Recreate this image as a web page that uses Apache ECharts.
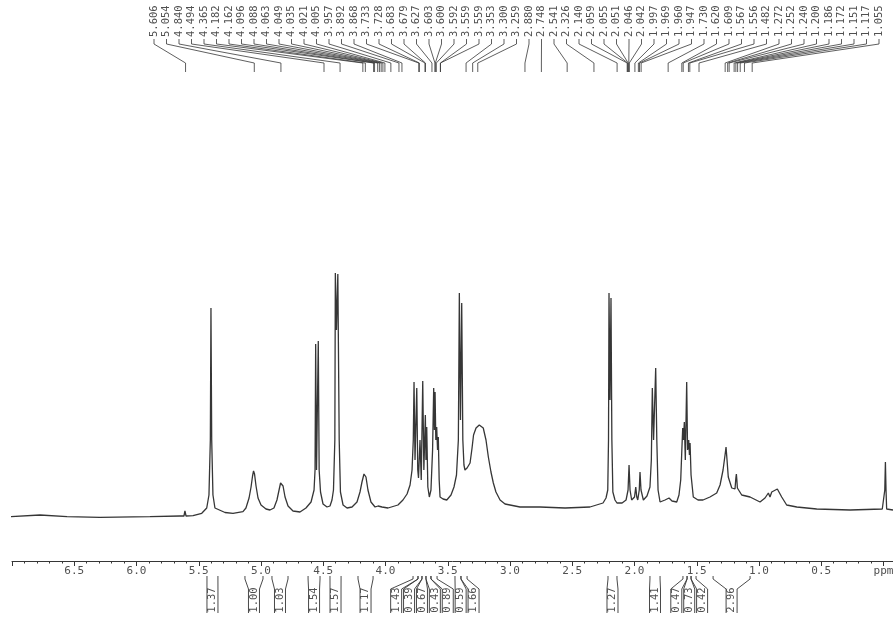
<!DOCTYPE html>
<html>
<head>
<meta charset="utf-8">
<script src="https://cdn.jsdelivr.net/npm/echarts@6/dist/echarts.min.js"></script>
<style>
  html, body { margin: 0; padding: 0; background: #ffffff; }
  #chart { width: 893px; height: 620px; }
</style>
</head>
<body>
<div id="chart"></div>
<script>
// 1H NMR trace: chemical shift (ppm) and signal intensity (arbitrary units, baseline near 0)
const shiftPpm = [
  7.008, 6.775, 6.558, 6.293, 5.892, 5.651, 5.619, 5.611, 5.602, 5.546,
  5.476, 5.436, 5.418, 5.407, 5.402, 5.396, 5.386, 5.370, 5.289, 5.225,
  5.145, 5.121, 5.096, 5.080, 5.068, 5.060, 5.052, 5.040, 5.024, 5.000,
  4.960, 4.928, 4.896, 4.872, 4.855, 4.843, 4.835, 4.823, 4.807, 4.783,
  4.743, 4.687, 4.639, 4.598, 4.574, 4.566, 4.561, 4.554, 4.548, 4.540,
  4.533, 4.522, 4.502, 4.470, 4.446, 4.430, 4.418, 4.407, 4.403, 4.394,
  4.383, 4.372, 4.362, 4.341, 4.309, 4.269, 4.229, 4.205, 4.189, 4.173,
  4.157, 4.141, 4.117, 4.084, 4.060, 4.044, 4.028, 3.980, 3.964, 3.900,
  3.860, 3.827, 3.803, 3.787, 3.777, 3.771, 3.763, 3.749, 3.741, 3.735,
  3.723, 3.713, 3.701, 3.692, 3.680, 3.675, 3.669, 3.660, 3.648, 3.635,
  3.622, 3.613, 3.607, 3.602, 3.596, 3.589, 3.582, 3.576, 3.569, 3.562,
  3.538, 3.508, 3.474, 3.450, 3.430, 3.415, 3.407, 3.398, 3.388, 3.379,
  3.370, 3.362, 3.345, 3.321, 3.305, 3.293, 3.273, 3.247, 3.215, 3.193,
  3.174, 3.153, 3.134, 3.113, 3.080, 3.040, 3.000, 2.920, 2.759, 2.558,
  2.358, 2.253, 2.229, 2.215, 2.209, 2.205, 2.197, 2.189, 2.182, 2.174,
  2.157, 2.141, 2.100, 2.068, 2.052, 2.044, 2.036, 2.023, 2.000, 1.990,
  1.982, 1.974, 1.962, 1.956, 1.948, 1.929, 1.900, 1.876, 1.865, 1.857,
  1.847, 1.830, 1.821, 1.811, 1.795, 1.755, 1.723, 1.699, 1.661, 1.643,
  1.629, 1.620, 1.613, 1.607, 1.600, 1.592, 1.581, 1.574, 1.565, 1.559,
  1.554, 1.546, 1.528, 1.490, 1.450, 1.394, 1.340, 1.313, 1.289, 1.273,
  1.265, 1.257, 1.247, 1.219, 1.193, 1.186, 1.182, 1.178, 1.174, 1.139,
  1.072, 0.992, 0.952, 0.925, 0.912, 0.898, 0.885, 0.853, 0.818, 0.778,
  0.697, 0.537, 0.269, 0.010, -0.005, -0.010, -0.015, -0.020, -0.025, -0.076
];
const intensity = [
  0.3, 2, 0.3, -0.3, 0.3, 1, 1, 6, 1, 1.3,
  3.7, 9, 22, 77, 209, 77, 22, 9, 4.5, 3.7,
  5.3, 9, 19, 30, 41, 46, 43, 31, 19, 12,
  8, 7, 9, 17, 27, 34, 36, 31, 20, 11,
  6, 5, 9, 15, 27, 47, 173, 47, 45, 176,
  47, 25, 13, 10, 11, 17, 27, 77, 244, 187,
  243, 77, 25, 12, 9, 10, 15, 25, 35, 43,
  40, 27, 15, 10, 11, 13, 10, 9, 9, 12,
  17, 23, 32, 47, 77, 135, 57, 129, 47, 39,
  77, 37, 136, 47, 102, 57, 90, 30, 20, 27,
  67, 129, 87, 125, 77, 90, 67, 80, 37, 20,
  18, 17, 22, 30, 42, 77, 224, 97, 214, 77,
  52, 47, 49, 54, 69, 82, 89, 92, 89, 77,
  60, 45, 34, 25, 17, 13, 12, 10, 10, 9,
  10, 14, 19, 27, 77, 224, 117, 219, 77, 25,
  17, 14, 14, 17, 27, 52, 27, 17, 20, 30,
  20, 17, 27, 45, 27, 17, 21, 30, 57, 129,
  77, 149, 77, 27, 15, 17, 19, 16, 15, 22,
  37, 67, 89, 77, 95, 57, 135, 67, 77, 62,
  74, 42, 20, 17, 17, 20, 24, 32, 47, 62,
  70, 57, 40, 29, 28, 39, 43, 37, 29, 22,
  20, 15, 19, 24, 20, 25, 25, 28, 20, 12,
  10, 8, 7, 8, 8, 27, 55, 27, 8, 7
];

// peak-pick list printed across the top (ppm)
const peakList = [
  5.606, 5.054, 4.840, 4.494, 4.365, 4.182, 4.162, 4.096, 4.088, 4.063,
  4.049, 4.035, 4.021, 4.005, 3.957, 3.892, 3.868, 3.733, 3.728, 3.683,
  3.679, 3.627, 3.603, 3.600, 3.592, 3.559, 3.559, 3.353, 3.300, 3.259,
  2.880, 2.748, 2.541, 2.326, 2.140, 2.059, 2.055, 2.051, 2.046, 2.042,
  1.997, 1.969, 1.960, 1.947, 1.730, 1.620, 1.609, 1.567, 1.556, 1.482,
  1.272, 1.252, 1.240, 1.200, 1.186, 1.172, 1.151, 1.117, 1.055
];

// integration regions (ppm) and their integral values
const integFrom  = [5.434, 5.129, 4.912, 4.622, 4.446, 4.221, 3.779, 3.739, 3.707, 3.675, 3.635, 3.442, 3.394, 2.213, 1.876, 1.611, 1.578, 1.546, 1.369];
const integTo    = [5.346, 4.984, 4.783, 4.526, 4.357, 4.100, 3.739, 3.707, 3.675, 3.635, 3.586, 3.394, 3.345, 2.141, 1.795, 1.578, 1.546, 1.506, 1.072];
const integValue = [1.37, 1.00, 1.03, 1.54, 1.57, 1.17, 1.43, 0.39, 0.67, 0.43, 0.89, 0.59, 1.66, 1.27, 1.41, 0.47, 0.73, 0.42, 2.96];

// axis ticks and labels
const axisLabelValues = [6.5, 6.0, 5.5, 5.0, 4.5, 4.0, 3.5, 3.0, 2.5, 2.0, 1.5, 1.0, 0.5, 0];
const majorTickValues = [7.0, 6.5, 6.0, 5.5, 5.0, 4.5, 4.0, 3.5, 3.0, 2.5, 2.0, 1.5, 1.0, 0.5, 0];
const minorTickValues = [];
for (let k = 70; k >= 0; k--) { if (k % 5 !== 0) minorTickValues.push(k / 10); }

const TEXT_COLOR = '#505050';
const LINE_COLOR = '#363636';
const MONO = '"DejaVu Sans Mono", "Liberation Mono", monospace';

const LABEL_LEFT = 154, LABEL_RIGHT = 879;   // span of the peak-pick text row
const BOX_GAP = 12.9, BOX_HALF = 5.5;        // integral label boxes

// spread overlapping integral boxes evenly around their group's mean centre
function spreadCenters(centers, gap) {
  let groups = centers.map((c, k) => ({ start: k, n: 1, sum: c }));
  const first = g => g.sum / g.n - (g.n - 1) * gap / 2;
  let changed = true;
  while (changed) {
    changed = false;
    for (let k = 0; k < groups.length - 1; k++) {
      const a = groups[k], b = groups[k + 1];
      if (first(a) + a.n * gap > first(b)) {
        groups.splice(k, 2, { start: a.start, n: a.n + b.n, sum: a.sum + b.sum });
        changed = true;
        break;
      }
    }
  }
  const out = [];
  groups.forEach(g => { const p0 = first(g); for (let j = 0; j < g.n; j++) out[g.start + j] = p0 + j * gap; });
  return out;
}

function renderPeakLabel(params, api) {
  const i = params.dataIndex;
  const n = peakList.length;
  const lx = LABEL_LEFT + i * (LABEL_RIGHT - LABEL_LEFT) / (n - 1);
  const v = api.value(0);
  const px = api.coord([v, 0])[0];
  return {
    type: 'group',
    children: [
      {
        type: 'text', x: lx, y: 37, rotation: Math.PI / 2,
        style: { text: v.toFixed(3), fill: TEXT_COLOR, fontSize: 10.5, fontFamily: MONO, align: 'left', verticalAlign: 'middle' }
      },
      {
        type: 'polyline',
        shape: { points: [[lx, 39], [lx, 44], [px, 63], [px, 72]] },
        style: { stroke: LINE_COLOR, lineWidth: 0.8, fill: null }
      }
    ]
  };
}

function renderIntegral(params, api) {
  const i = params.dataIndex;
  const centers = spreadCenters(integFrom.map((f, k) =>
    (api.coord([f, 0])[0] + api.coord([integTo[k], 0])[0]) / 2), BOX_GAP);
  const xa = api.coord([api.value(0), 0])[0];
  const xb = api.coord([api.value(1), 0])[0];
  const l = Math.min(xa, xb), r = Math.max(xa, xb);
  const c = centers[i];
  const lineStyle = { stroke: LINE_COLOR, lineWidth: 0.9, fill: null };
  return {
    type: 'group',
    children: [
      { type: 'polyline', shape: { points: [[l, 576], [l, 579], [c - BOX_HALF, 589], [c - BOX_HALF, 613]] }, style: lineStyle },
      { type: 'polyline', shape: { points: [[r, 576], [r, 579], [c + BOX_HALF, 589], [c + BOX_HALF, 613]] }, style: lineStyle },
      {
        type: 'text', x: c, y: 600, rotation: Math.PI / 2,
        style: { text: api.value(2).toFixed(2), fill: TEXT_COLOR, fontSize: 10.5, fontFamily: MONO, align: 'center', verticalAlign: 'middle' }
      }
    ]
  };
}

const chart = echarts.init(document.getElementById('chart'), null, { renderer: 'canvas' });

const sharedX = { type: 'value', inverse: true, min: -0.076, max: 7.0, position: 'bottom', splitLine: { show: false } };

chart.setOption({
  backgroundColor: '#ffffff',
  animation: false,
  grid: { left: 12, right: 0, top: 261, bottom: 59, containLabel: false, outerBoundsMode: 'none' },
  xAxis: [
    Object.assign({}, sharedX, {
      axisLine: { show: true, onZero: false, lineStyle: { color: LINE_COLOR, width: 1 } },
      axisTick: { show: true, customValues: majorTickValues, length: 5, lineStyle: { color: LINE_COLOR, width: 1 } },
      axisLabel: {
        show: true, customValues: axisLabelValues, margin: 5,
        fontFamily: MONO, fontSize: 11, color: TEXT_COLOR,
        formatter: v => (v === 0 ? 'ppm' : v.toFixed(1))
      }
    }),
    Object.assign({}, sharedX, {
      axisLine: { show: false, onZero: false },
      axisTick: { show: true, customValues: minorTickValues, length: 2.5, lineStyle: { color: LINE_COLOR, width: 1 } },
      axisLabel: { show: false }
    })
  ],
  yAxis: { type: 'value', min: -44, max: 256, show: false },
  series: [
    {
      name: 'spectrum',
      type: 'line',
      xAxisIndex: 0,
      data: shiftPpm.map((p, k) => [p, intensity[k]]),
      showSymbol: false,
      smooth: false,
      sampling: null,
      lineStyle: { color: LINE_COLOR, width: 1.3 },
      silent: true
    },
    {
      name: 'peak list',
      type: 'custom',
      xAxisIndex: 0,
      clip: false,
      data: peakList.map(p => [p, 0]),
      encode: { x: 0, y: 1 },
      renderItem: renderPeakLabel,
      silent: true
    },
    {
      name: 'integrals',
      type: 'custom',
      xAxisIndex: 0,
      clip: false,
      data: integFrom.map((f, k) => [f, integTo[k], integValue[k]]),
      encode: { x: [0, 1] },
      renderItem: renderIntegral,
      silent: true
    }
  ]
});
</script>
</body>
</html>
